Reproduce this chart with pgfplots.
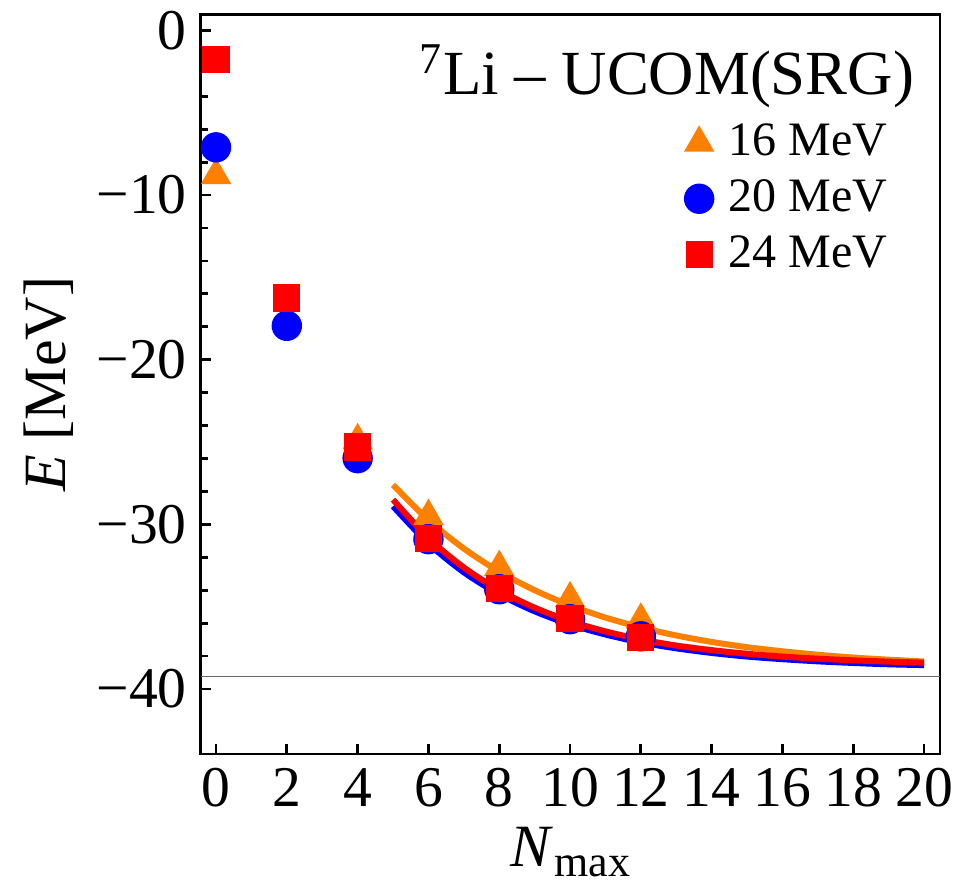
\documentclass[border=0pt]{standalone}
\usepackage{fontspec}
\setmainfont{Liberation Serif}
\usepackage{pgfplots}
\pgfplotsset{compat=1.18}
\definecolor{myorange}{RGB}{255,128,0}
\definecolor{myblue}{RGB}{0,0,255}
\definecolor{myred}{RGB}{255,0,0}
\begin{document}
\begin{tikzpicture}
\begin{axis}[
  name=ax,
  at={(0,0)}, anchor=south west,
  scale only axis,
  width=184.8pt, height=184.8pt,
  xmin=-0.43, xmax=20.45,
  ymin=-43.95, ymax=0.95,
  axis line style={line width=0.7pt},
  tick style={line width=0.7pt, black},
  tick align=inside,
  tick pos=left,
  major tick length=2.6pt,
  minor tick length=1.7pt,
  xtick={0,2,...,20},
  xticklabels={0,2,4,6,8,10,12,14,16,18,20},
  ytick={-40,-30,-20,-10,0},
  yticklabels={−40,−30,−20,−10,0},
  minor y tick num=4,
  /pgf/number format/assume math mode=true,
  ticklabel style={font=\fontsize{14.4}{16}\selectfont},
  xlabel={\textit{N}\kern0.3pt\raisebox{-2.4pt}{\fontsize{11}{12}\selectfont max}},
  ylabel={\textit{E} [MeV]},
  label style={font=\fontsize{15}{18}\selectfont},
  xlabel style={yshift=-0.6pt, inner ysep=1pt},
  ylabel style={yshift=-1pt},
  legend style={draw=none, fill=none, at={(0.957,0.875)}, anchor=north east,
    font=\fontsize{12}{14}\selectfont, row sep=0.5pt,
    legend cell align=left},
  clip=true,
]
\addplot[gray!80!black, line width=0.35pt, forget plot] coordinates {(-0.43,-39.24) (20.45,-39.24)};
% 16 MeV
\addplot[only marks, mark=triangle*, mark size=4pt, color=myorange] coordinates {
(0,-8.8) (2,-17.6) (4,-24.9) (6,-29.5) (8,-32.6) (10,-34.5) (12,-35.8)};
\addlegendentry{\hspace{1.8pt}16 MeV}
% 20 MeV
\addplot[only marks, mark=*, mark size=3.6pt, color=myblue] coordinates {
(0,-7.1) (2,-17.94) (4,-25.98) (6,-30.9) (8,-33.94) (10,-35.76) (12,-36.8)};
\addlegendentry{\hspace{1.8pt}20 MeV}
% 24 MeV
\addplot[only marks, mark=square*, mark size=3.2pt, color=myred] coordinates {
(0,-1.74) (2,-16.25) (4,-25.3) (6,-30.84) (8,-33.9) (10,-35.74) (12,-36.85)};
\addlegendentry{\hspace{1.8pt}24 MeV}
% fits
\addplot[myorange, line width=1.5pt, smooth, forget plot] coordinates {
(5,-27.60) (6,-29.74) (7,-31.47) (8,-32.87) (9,-34.00) (10,-34.92) (11,-35.66) (12,-36.26)
(13,-36.75) (14,-37.14) (15,-37.46) (16,-37.71) (17,-37.92) (18,-38.09) (19,-38.22) (20,-38.33)};
\addplot[myblue, line width=1.5pt, smooth, forget plot] coordinates {
(5,-28.90) (6,-31.16) (7,-32.91) (8,-34.25) (9,-35.28) (10,-36.08) (11,-36.69) (12,-37.17)
(13,-37.53) (14,-37.81) (15,-38.03) (16,-38.19) (17,-38.32) (18,-38.42) (19,-38.50) (20,-38.55)};
\addplot[myred, line width=1.5pt, smooth, forget plot] coordinates {
(5,-28.50) (6,-30.83) (7,-32.62) (8,-34.00) (9,-35.06) (10,-35.88) (11,-36.50) (12,-36.99)
(13,-37.36) (14,-37.64) (15,-37.86) (16,-38.03) (17,-38.16) (18,-38.26) (19,-38.34) (20,-38.40)};
\node[anchor=base east, font=\fontsize{15.7}{18}\selectfont, inner sep=0pt] at (rel axis cs:0.966,0.892) {\textsuperscript{7}Li – UCOM(SRG)};
\end{axis}
\pgfresetboundingbox
\path ([xshift=-50.2pt,yshift=-34.75pt]ax.south west) rectangle ([xshift=192.8pt,yshift=188.5pt]ax.south west);
\end{tikzpicture}
\end{document}
